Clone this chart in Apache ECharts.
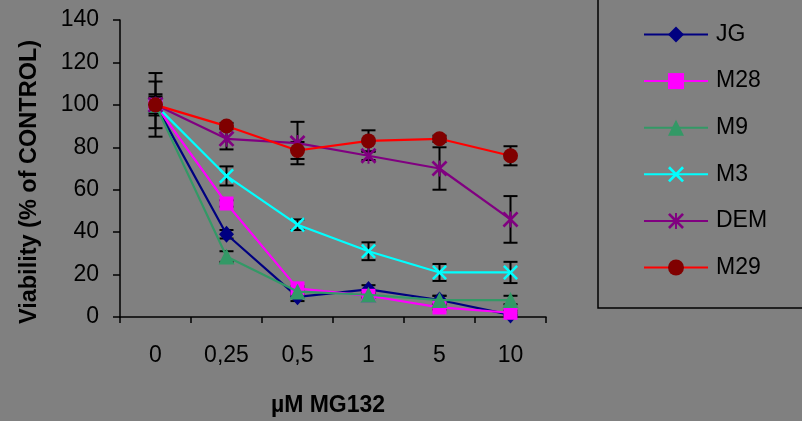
<!DOCTYPE html>
<html>
<head>
<meta charset="utf-8">
<script src="https://cdn.jsdelivr.net/npm/echarts@6/dist/echarts.min.js"></script>
<style>
  html, body { margin: 0; padding: 0; background: #808080; }
  #chart { width: 802px; height: 421px; }
</style>
</head>
<body>
<div id="chart"></div>
<script>
// Proteasome inhibitor dose series (µM MG132) and cell viability (% of control)
const doses = ['0', '0,25', '0,5', '1', '5', '10'];
const yTicks = [0, 20, 40, 60, 80, 100, 120, 140];

const seriesNames = ['JG', 'M28', 'M9', 'M3', 'DEM', 'M29'];

const jgValues  = [100, 39, 9.5, 13, 8, 1];
const m28Values = [100, 53.5, 13.5, 10, 4.5, 2];
const m9Values  = [100, 28.5, 12, 10.5, 8, 8];
const m3Values  = [100, 66.5, 43.5, 31, 21, 21];
const demValues = [100, 84, 82, 76, 70, 46];
const m29Values = [100, 90, 78.5, 83, 84, 76];

// half-width of the error bars (standard deviation)
const jgErr  = [4, 2, 2, 2, 2, 1];
const m28Err = [3, 1.5, 1, 1, 1, 1];
const m9Err  = [3, 2.5, 1.5, 1, 2, 2];
const m3Err  = [5, 4.5, 2.5, 4.2, 4, 5];
const demErr = [15, 5, 10, 2, 10, 11];
const m29Err = [11, 1.5, 4, 5, 1.5, 4.5];

const valueSets = [jgValues, m28Values, m9Values, m3Values, demValues, m29Values];
const errorSets = [jgErr, m28Err, m9Err, m3Err, demErr, m29Err];

const lineColors   = ['#000080', '#FF00FF', '#339966', '#00FFFF', '#800080', '#FF0000'];
const markerColors = ['#000080', '#FF00FF', '#339966', '#00FFFF', '#800080', '#800000'];

const crossPath = 'path://M0,1.2L1.2,0L5,3.8L8.8,0L10,1.2L6.2,5L10,8.8L8.8,10L5,6.2L1.2,10L0,8.8L3.8,5Z';
const starPath = 'path://M0,1.2L1.2,0L5,3.8L8.8,0L10,1.2L6.2,5L10,8.8L8.8,10L5,6.2L1.2,10L0,8.8L3.8,5Z' +
                 'M4.4,0L5.6,0L5.6,10L4.4,10Z';
const symbols = ['diamond', 'rect', 'triangle', crossPath, starPath, 'circle'];
const symbolSizes = [[15, 17], 14, 16, 15, 16, 15];

const chart = echarts.init(document.getElementById('chart'));

const lineSeries = seriesNames.map((name, i) => ({
  name: name,
  type: 'line',
  data: valueSets[i],
  symbol: symbols[i],
  symbolSize: symbolSizes[i],
  showAllSymbol: true,
  z: 3 + i,
  lineStyle: { color: lineColors[i], width: 2.2 },
  itemStyle: { color: markerColors[i], opacity: 1 },
  emphasis: { disabled: true },
  animation: false
}));

// error bars for every series, drawn under the lines
const errorSeries = seriesNames.map((name, i) => ({
  type: 'custom',
  z: 1,
  silent: true,
  animation: false,
  data: valueSets[i].map((v, k) => [k, v - errorSets[i][k], v + errorSets[i][k]]),
  renderItem: function (params, api) {
    const lo = api.coord([api.value(0), api.value(1)]);
    const hi = api.coord([api.value(0), api.value(2)]);
    const half = 7;
    const style = { stroke: '#000', lineWidth: 2 };
    return {
      type: 'group',
      children: [
        { type: 'line', shape: { x1: lo[0], y1: lo[1], x2: hi[0], y2: hi[1] }, style: style },
        { type: 'line', shape: { x1: lo[0] - half, y1: lo[1], x2: lo[0] + half, y2: lo[1] }, style: style },
        { type: 'line', shape: { x1: hi[0] - half, y1: hi[1], x2: hi[0] + half, y2: hi[1] }, style: style }
      ]
    };
  }
}));

chart.setOption({
  backgroundColor: '#808080',
  animation: false,
  textStyle: { fontFamily: 'Liberation Sans, Arial, sans-serif' },
  grid: { left: 120, right: 256, top: 20, bottom: 104 },
  xAxis: {
    type: 'category',
    data: doses,
    boundaryGap: true,
    axisLine: { lineStyle: { color: '#000', width: 1.5 } },
    axisTick: { show: true, inside: false, length: 6, alignWithLabel: false, lineStyle: { color: '#000', width: 1.5 } },
    axisLabel: { color: '#000', fontSize: 23, margin: 27 },
    splitLine: { show: false }
  },
  yAxis: {
    type: 'value',
    min: yTicks[0],
    max: yTicks[yTicks.length - 1],
    interval: 20,
    axisLine: { show: true, lineStyle: { color: '#000', width: 1.5 } },
    axisTick: { show: true, length: 7, lineStyle: { color: '#000', width: 1.5 } },
    axisLabel: { color: '#000', fontSize: 23, margin: 21 },
    splitLine: { show: false }
  },
  legend: {
    orient: 'vertical',
    left: 638,
    top: 18,
    itemWidth: 64,
    itemHeight: 20,
    itemGap: 23.6,
    data: seriesNames,
    selectedMode: false,
    textStyle: { color: '#000', fontSize: 23, lineHeight: 20, padding: [0, 0, 0, 3] }
  },
  graphic: [
    {
      type: 'rect',
      z: 0,
      shape: { x: 598, y: -5, width: 220, height: 313 },
      style: { fill: 'none', stroke: '#000', lineWidth: 1.5 }
    },
    {
      type: 'text',
      x: 30,
      y: 182,
      rotation: Math.PI / 2,
      style: {
        text: 'Viability (% of CONTROL)',
        fill: '#000',
        font: 'bold 23.5px "Liberation Sans", Arial, sans-serif',
        align: 'center',
        verticalAlign: 'middle'
      }
    },
    {
      type: 'text',
      x: 328,
      y: 406,
      style: {
        text: 'µM MG132',
        fill: '#000',
        font: 'bold 23px "Liberation Sans", Arial, sans-serif',
        align: 'center',
        verticalAlign: 'middle'
      }
    }
  ],
  series: errorSeries.concat(lineSeries)
});
</script>
</body>
</html>
